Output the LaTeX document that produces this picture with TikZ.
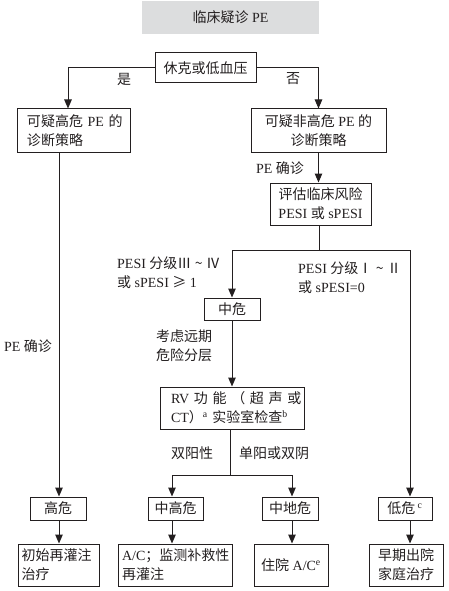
\documentclass[tikz,border=0pt]{standalone}
\usepackage{fontspec}
\setmainfont{Liberation Serif}
\newfontfamily\zhfont{Noto Sans CJK SC}
\newcommand\zh[1]{{\zhfont #1}}
\usetikzlibrary{arrows.meta,calc}
\definecolor{ink}{HTML}{231F20}
\definecolor{titlegray}{HTML}{DCDDDE}
\begin{document}
\begin{tikzpicture}[x=1pt,y=-1pt,
  every node/.style={font=\fontsize{14}{19}\selectfont, text=ink},
  box/.style={draw=ink, line width=1pt, inner sep=0pt, anchor=center},
  lbl/.style={inner sep=0pt},
  arr/.style={draw=ink, line width=1pt, -{Triangle[length=9pt,width=7.5pt]}},
  ln/.style={draw=ink, line width=1pt}]
\useasboundingbox (0,0) rectangle (449,591);
% title
\node[fill=titlegray, minimum width=177pt, minimum height=33pt, inner sep=0pt] (title) at (230.5,17.5) {\zh{临床疑诊} PE};
% boxes
\node[box, minimum width=101pt, minimum height=30pt] (shock) at (205.5,68) {\zh{休克或低血压}};
\node[box, minimum width=113pt, minimum height=43pt, text width=93pt, inner xsep=10pt, align=left] (hiSus) at (73.5,130.5) {\mbox{\zh{可疑高危} PE \zh{的}}\\\zh{诊断策略}};
\node[box, minimum width=135pt, minimum height=43pt, align=center] (nhSus) at (318.5,130.5) {\zh{可疑非高危} PE \zh{的}\\\zh{诊断策略}};
\node[box, minimum width=101pt, minimum height=42pt, align=center] (eval) at (320.5,204) {\zh{评估临床风险}\\PESI \zh{或} sPESI};
\node[box, minimum width=56pt, minimum height=22pt] (mid) at (232,309) {\zh{中危}};
\node[box, minimum width=144pt, minimum height=42pt, text width=122pt, inner xsep=11pt, align=left] (rv) at (232,408) {\makebox[122pt][s]{RV \zh{功 能 （ 超 声 或}}\\\mbox{CT\zh{）}\textsuperscript{a} \zh{实验室检查}\textsuperscript{b}}};
\node[box, minimum width=56pt, minimum height=23pt] (hi) at (58,508.5) {\zh{高危}};
\node[box, minimum width=55pt, minimum height=23pt] (mhi) at (175.5,508.5) {\zh{中高危}};
\node[box, minimum width=56pt, minimum height=23pt] (mlo) at (290,508.5) {\zh{中地危}};
\node[box, minimum width=54pt, minimum height=23pt] (lo) at (405,508.5) {\zh{低危}\,\textsuperscript{c}};
\node[box, minimum width=81pt, minimum height=42pt, text width=74pt, inner xsep=3.5pt, align=left] (b1) at (58.5,565) {\mbox{\zh{初始再灌注}}\\\zh{治疗}};
\node[box, minimum width=114pt, minimum height=42pt, text width=106pt, inner xsep=4pt, align=left] (b2) at (175,565) {\mbox{A/C\zh{；监测补救性}}\\\zh{再灌注}};
\node[box, minimum width=74pt, minimum height=42pt] (b3) at (291,565) {\zh{住院} A/C\textsuperscript{e}};
\node[box, minimum width=74pt, minimum height=42pt, align=center] (b4) at (406,565) {\zh{早期出院}\\\zh{家庭治疗}};
% labels
\node[lbl] (yes) at (124,79) {\zh{是}};
\node[lbl] (no) at (293,79) {\zh{否}};
\node[lbl] (pe1) at (280,168) {PE \zh{确诊}};
\node[lbl, anchor=west, align=left] (pesiH) at (117,272.5) {PESI \zh{分级Ⅲ} \zh{\textasciitilde} \zh{Ⅳ}\\\zh{或} sPESI \zh{≥} 1};
\node[lbl, anchor=west, align=left] (pesiL) at (298,278) {PESI \zh{分级Ⅰ} \zh{\textasciitilde} \zh{Ⅱ}\\\zh{或} sPESI=0};
\node[lbl, anchor=west, align=left] (cons) at (156,346) {\zh{考虑远期}\\\zh{危险分层}};
\node[lbl] (pe2) at (28,346) {PE \zh{确诊}};
\node[lbl] (dpos) at (192,453) {\zh{双阳性}};
\node[lbl] (spos) at (274,453) {\zh{单阳或双阴}};
% coordinates
\coordinate (j1) at (319,250);
\coordinate (j2) at (230.5,475);
% connectors
\draw[arr] (shock.west) -| ([xshift=-5.5pt]hiSus.north);
\draw[arr] (shock.east) -| (nhSus.north);
\draw[arr] (nhSus.south) -- (nhSus.south |- eval.north);
\draw[ln] (eval.south -| j1) -- (j1);
\draw[arr] (j1) -| (mid.north);
\draw[arr] (j1) -| ([xshift=5pt]lo.north);
\draw[arr] (mid.south) -- (rv.north);
\draw[ln] (rv.south -| j2) -- (j2);
\draw[arr] (j2) -| ([xshift=-3.5pt]mhi.north);
\draw[arr] (j2) -| ([xshift=2pt]mlo.north);
\draw[arr] ([xshift=1pt]hiSus.south -| hi.north) -- ([xshift=1pt]hi.north);
\draw[arr] ([xshift=1pt]hi.south) -- ([xshift=1pt]b1.north -| hi.south);
\draw[arr] ([xshift=-3.5pt]mhi.south) -- ([xshift=-3.5pt]b2.north -| mhi.south);
\draw[arr] ([xshift=2pt]mlo.south) -- ([xshift=2pt]b3.north -| mlo.south);
\draw[arr] ([xshift=5pt]lo.south) -- ([xshift=5pt]b4.north -| lo.south);
\end{tikzpicture}
\end{document}
